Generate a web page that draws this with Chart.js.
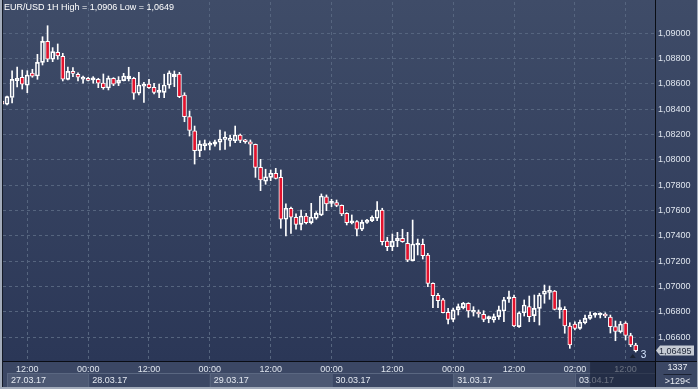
<!DOCTYPE html>
<html>
<head>
<meta charset="utf-8">
<script src="https://cdn.jsdelivr.net/npm/chart.js@4.4.0/dist/chart.umd.min.js"></script>
<style>
  html, body { margin: 0; padding: 0; background: #2f3b58; }
  #wrap { width: 698px; height: 389px; }
</style>
</head>
<body>
<div id="wrap"><canvas id="chart" width="698" height="389"></canvas></div>
<script>
// EUR/USD 1H candles, 27.03.17 07:00 -> 03.04.17 14:00
const opens = [1.08466,1.08440,1.08493,1.08626,1.08653,1.08590,1.08687,1.08663,1.08771,1.08937,
  1.08795,1.08850,1.08819,1.08637,1.08700,1.08677,1.08639,1.08645,1.08632,1.08637,
  1.08608,1.08568,1.08645,1.08606,1.08626,1.08642,1.08645,1.08527,1.08582,1.08600,
  1.08574,1.08534,1.08534,1.08592,1.08658,1.08679,1.08513,1.08342,1.08231,1.08073,
  1.08113,1.08116,1.08124,1.08140,1.08163,1.08155,1.08152,1.08197,1.08158,1.08144,
  1.08124,1.07942,1.07832,1.07863,1.07895,1.07863,1.07532,1.07619,1.07548,1.07492,
  1.07558,1.07505,1.07540,1.07566,1.07710,1.07658,1.07663,1.07642,1.07579,1.07503,
  1.07513,1.07453,1.07508,1.07521,1.07540,1.07605,1.07360,1.07315,1.07363,1.07382,
  1.07342,1.07205,1.07329,1.07334,1.07250,1.07026,1.06932,1.06895,1.06798,1.06742,
  1.06816,1.06834,1.06869,1.06798,1.06794,1.06782,1.06747,1.06737,1.06763,1.06808,
  1.06903,1.06916,1.06684,1.06794,1.06842,1.06771,1.06829,1.06940,1.06955,1.06966,
  1.06818,1.06821,1.06689,1.06705,1.06671,1.06715,1.06750,1.06774,1.06776,1.06782,
  1.06760,1.06685,1.06644,1.06713,1.06614,1.06539];
const highs = [1.08470,1.08505,1.08703,1.08734,1.08710,1.08705,1.08716,1.08834,1.08973,1.09060,
  1.08887,1.08916,1.08842,1.08734,1.08729,1.08689,1.08663,1.08653,1.08658,1.08645,
  1.08679,1.08663,1.08650,1.08658,1.08684,1.08732,1.08653,1.08692,1.08613,1.08637,
  1.08606,1.08600,1.08677,1.08703,1.08703,1.08692,1.08531,1.08387,1.08268,1.08152,
  1.08158,1.08144,1.08158,1.08237,1.08223,1.08197,1.08268,1.08205,1.08163,1.08158,
  1.08126,1.08005,1.07927,1.07921,1.07934,1.07921,1.07653,1.07629,1.07574,1.07605,
  1.07579,1.07658,1.07592,1.07732,1.07724,1.07690,1.07684,1.07645,1.07584,1.07566,
  1.07522,1.07526,1.07532,1.07560,1.07671,1.07619,1.07390,1.07416,1.07429,1.07453,
  1.07429,1.07526,1.07376,1.07376,1.07263,1.07031,1.06948,1.06908,1.06829,1.06831,
  1.06863,1.06876,1.06873,1.06842,1.06816,1.06810,1.06768,1.06784,1.06847,1.06916,
  1.06966,1.06934,1.06802,1.06895,1.06926,1.06934,1.06948,1.07013,1.07005,1.06970,
  1.06895,1.06842,1.06715,1.06723,1.06737,1.06776,1.06802,1.06794,1.06794,1.06794,
  1.06776,1.06729,1.06725,1.06723,1.06632,1.06553];
const lows = [1.08438,1.08434,1.08450,1.08576,1.08560,1.08531,1.08653,1.08637,1.08750,1.08776,
  1.08776,1.08795,1.08624,1.08632,1.08658,1.08624,1.08606,1.08624,1.08606,1.08571,
  1.08558,1.08553,1.08587,1.08587,1.08624,1.08624,1.08479,1.08513,1.08455,1.08566,
  1.08521,1.08492,1.08492,1.08566,1.08579,1.08492,1.08302,1.08189,1.07968,1.08026,
  1.08079,1.08079,1.08110,1.08079,1.08084,1.08110,1.08137,1.08137,1.08132,1.08039,
  1.07863,1.07758,1.07808,1.07837,1.07850,1.07461,1.07400,1.07421,1.07453,1.07447,
  1.07495,1.07495,1.07532,1.07560,1.07600,1.07631,1.07631,1.07560,1.07487,1.07495,
  1.07400,1.07442,1.07500,1.07513,1.07521,1.07329,1.07284,1.07284,1.07315,1.07350,
  1.07197,1.07203,1.07250,1.07218,1.07000,1.06834,1.06834,1.06792,1.06705,1.06723,
  1.06776,1.06824,1.06758,1.06768,1.06758,1.06723,1.06715,1.06719,1.06742,1.06723,
  1.06876,1.06684,1.06679,1.06768,1.06723,1.06723,1.06697,1.06869,1.06900,1.06816,
  1.06750,1.06632,1.06513,1.06658,1.06663,1.06705,1.06742,1.06758,1.06753,1.06755,
  1.06634,1.06573,1.06634,1.06579,1.06526,1.06484];
const closes = [1.08440,1.08500,1.08637,1.08645,1.08598,1.08671,1.08661,1.08771,1.08937,1.08795,
  1.08855,1.08821,1.08639,1.08700,1.08684,1.08653,1.08647,1.08629,1.08637,1.08606,
  1.08571,1.08645,1.08598,1.08629,1.08663,1.08663,1.08527,1.08592,1.08600,1.08571,
  1.08534,1.08539,1.08592,1.08689,1.08679,1.08500,1.08342,1.08233,1.08073,1.08126,
  1.08124,1.08124,1.08144,1.08166,1.08174,1.08168,1.08197,1.08155,1.08144,1.08124,
  1.07942,1.07842,1.07868,1.07895,1.07855,1.07532,1.07619,1.07548,1.07492,1.07558,
  1.07505,1.07548,1.07579,1.07716,1.07653,1.07663,1.07642,1.07574,1.07505,1.07508,
  1.07453,1.07508,1.07526,1.07548,1.07605,1.07355,1.07315,1.07360,1.07382,1.07355,
  1.07210,1.07337,1.07337,1.07244,1.07026,1.06929,1.06889,1.06794,1.06742,1.06816,
  1.06842,1.06869,1.06808,1.06808,1.06784,1.06742,1.06753,1.06763,1.06816,1.06895,
  1.06908,1.06689,1.06794,1.06855,1.06763,1.06829,1.06934,1.06966,1.06963,1.06821,
  1.06824,1.06689,1.06539,1.06671,1.06719,1.06750,1.06776,1.06779,1.06782,1.06768,
  1.06685,1.06646,1.06705,1.06614,1.06539,1.06495];

// axis labels (x ticks are candle indexes)
const xTickIdx = [5, 17, 29, 41, 53, 65, 77, 89, 101, 113, 123];
const xTickLabels = ['12:00','00:00','12:00','00:00','12:00','00:00','12:00','00:00','12:00','02:00','12:00'];
const dayStarts = [1, 17, 41, 65, 89, 113];
const dayLabels = ['27.03.17','28.03.17','29.03.17','30.03.17','31.03.17','03.04.17'];
const yTicks = [1.066,1.068,1.070,1.072,1.074,1.076,1.078,1.080,1.082,1.084,1.086,1.088,1.090];
const titleText = 'EUR/USD 1H High = 1,0906 Low = 1,0649';
const barsCount = '1337';
const zoomText = '>129<';
const markerText = '3';
const shadeFrom = 116;

const FONT = '"Liberation Sans", Arial, sans-serif';
Chart.defaults.font.family = FONT;

const fmt = v => v.toFixed(5).replace('.', ',');

const bodies = opens.map((o, i) => ({ x: i, y: [o, closes[i]] }));
const upperWicks = highs.map((h, i) => ({ x: i, y: [Math.max(opens[i], closes[i]), h] }));
const lowerWicks = lows.map((l, i) => ({ x: i, y: [l, Math.min(opens[i], closes[i])] }));
const bodyFill = opens.map((o, i) => closes[i] < o ? '#e3122d' : 'rgba(0,0,0,0)');

const noPad = s => { s.paddingTop = 0; s.paddingBottom = 0; s.paddingLeft = 0; s.paddingRight = 0; };

const panels = {
  id: 'panels',
  beforeDraw(chart) {
    const { ctx, chartArea: a, width, height } = chart;
    const x = chart.scales.x;
    const g = ctx.createLinearGradient(0, 0, 0, a.bottom);
    g.addColorStop(0, '#3f4c68');
    g.addColorStop(1, '#2b3757');
    ctx.fillStyle = g;
    ctx.fillRect(0, 0, width, a.bottom);
    ctx.fillStyle = '#3b4764';
    ctx.fillRect(0, a.bottom, width, height - a.bottom);
    // date boxes
    dayStarts.forEach((d, k) => {
      const x0 = x.getPixelForValue(d);
      const x1 = k + 1 < dayStarts.length ? x.getPixelForValue(dayStarts[k + 1]) : a.right;
      if (k % 2 === 0) {
        ctx.fillStyle = '#4c5873';
        ctx.fillRect(x0, 373, x1 - x0, 14);
      }
      ctx.fillStyle = '#5a6781';
      ctx.fillRect(x0, 373, x1 - x0, 1);
      ctx.fillRect(x0, 373, 1, 14);
    });
  },
  afterDraw(chart) {
    const { ctx, chartArea: a, width, height } = chart;
    const x = chart.scales.x, y = chart.scales.y;
    ctx.save();
    ctx.textBaseline = 'middle';
    // title
    ctx.font = '9px ' + FONT;
    ctx.fillStyle = '#ffffff';
    ctx.textAlign = 'left';
    ctx.fillText(titleText, 4, 8);
    // dates
    ctx.fillStyle = '#e4e9f1';
    dayStarts.forEach((d, k) => ctx.fillText(dayLabels[k], x.getPixelForValue(d) + 4, 380.5));
    // shade of the bottom panel
    const sx = x.getPixelForValue(shadeFrom);
    ctx.fillStyle = 'rgba(22,30,52,0.6)';
    ctx.fillRect(sx, a.bottom + 1, a.right - sx, height - a.bottom - 3);
    // separators
    ctx.fillStyle = '#0a0d14';
    ctx.fillRect(a.right, 0, 1, height);
    ctx.fillRect(0, a.bottom, width, 1);
    // frame
    ctx.fillStyle = '#a3acbb';
    ctx.fillRect(0, 0, 2, height);
    ctx.fillRect(0, height - 2, width, 2);
    ctx.fillRect(width - 1, 0, 1, height);
    ctx.fillStyle = '#141a26';
    ctx.fillRect(2, 0, 1, height - 2);
    // last price tag
    const last = closes.length - 1;
    const py = y.getPixelForValue(closes[last]);
    ctx.fillStyle = '#c6cbd4';
    ctx.beginPath();
    ctx.moveTo(a.right + 1, py);
    ctx.lineTo(a.right + 5, py - 5);
    ctx.lineTo(a.right + 39, py - 5);
    ctx.lineTo(a.right + 39, py + 5);
    ctx.lineTo(a.right + 5, py + 5);
    ctx.closePath();
    ctx.fill();
    ctx.fillStyle = '#222a3c';
    ctx.fillText(fmt(closes[last]), a.right + 4, py + 0.5);
    // marker under last candle
    const lx = x.getPixelForValue(last);
    const ly = y.getPixelForValue(lows[last]);
    ctx.fillStyle = '#1c2333';
    ctx.beginPath();
    ctx.moveTo(lx - 3, ly + 2);
    ctx.lineTo(lx - 6, ly + 6);
    ctx.lineTo(lx, ly + 6);
    ctx.closePath();
    ctx.fill();
    ctx.fillStyle = '#d6e6ff';
    ctx.font = '10px ' + FONT;
    ctx.fillText(markerText, lx + 5, ly + 3);
    // corner counters
    ctx.font = '9px ' + FONT;
    ctx.textAlign = 'center';
    ctx.fillStyle = '#e8ecf3';
    const cx = (a.right + width) / 2 + 1;
    ctx.fillText(barsCount, cx, 367.5);
    ctx.fillText(zoomText, cx, 381.5);
    ctx.fillStyle = '#1b2233';
    ctx.fillRect(cx - 14, 374, 28, 1);
    ctx.restore();
  }
};

new Chart(document.getElementById('chart').getContext('2d'), {
  type: 'bar',
  data: {
    datasets: [
      {
        label: 'body',
        data: bodies,
        backgroundColor: bodyFill,
        borderColor: '#ffffff',
        borderWidth: 1,
        borderSkipped: false,
        barThickness: 4,
        minBarLength: 2,
      },
      {
        label: 'high',
        data: upperWicks,
        backgroundColor: '#ffffff',
        borderWidth: 0,
        barThickness: 1,
      },
      {
        label: 'low',
        data: lowerWicks,
        backgroundColor: '#ffffff',
        borderWidth: 0,
        barThickness: 1,
      },
    ]
  },
  options: {
    responsive: false,
    devicePixelRatio: 1,
    animation: false,
    layout: { padding: { left: 3, top: 2, right: 0, bottom: 0 } },
    datasets: { bar: { grouped: false } },
    plugins: { legend: { display: false }, tooltip: { enabled: false } },
    scales: {
      x: {
        type: 'linear',
        offset: false,
        min: 0.207,
        max: 128.8,
        afterBuildTicks: s => { s.ticks = xTickIdx.map(v => ({ value: v })); },
        afterFit: s => { s.height = 28; noPad(s); },
        ticks: {
          autoSkip: false,
          maxRotation: 0,
          padding: 3,
          color: '#dfe5ee',
          font: { size: 9 },
          callback: (v, i) => xTickLabels[i],
        },
        grid: { color: '#56657f', drawTicks: false, offset: false },
        border: { display: false, dash: [3, 3] },
      },
      y: {
        position: 'right',
        min: 1.06413,
        max: 1.092473,
        afterBuildTicks: s => { s.ticks = yTicks.map(v => ({ value: v })); },
        afterFit: s => { s.width = 43; noPad(s); },
        ticks: {
          padding: 3,
          color: '#dfe5ee',
          font: { size: 9 },
          callback: v => fmt(v),
        },
        grid: { color: '#56657f', drawTicks: false },
        border: { display: false, dash: [3, 3] },
      }
    }
  },
  plugins: [panels]
});
</script>
</body>
</html>
